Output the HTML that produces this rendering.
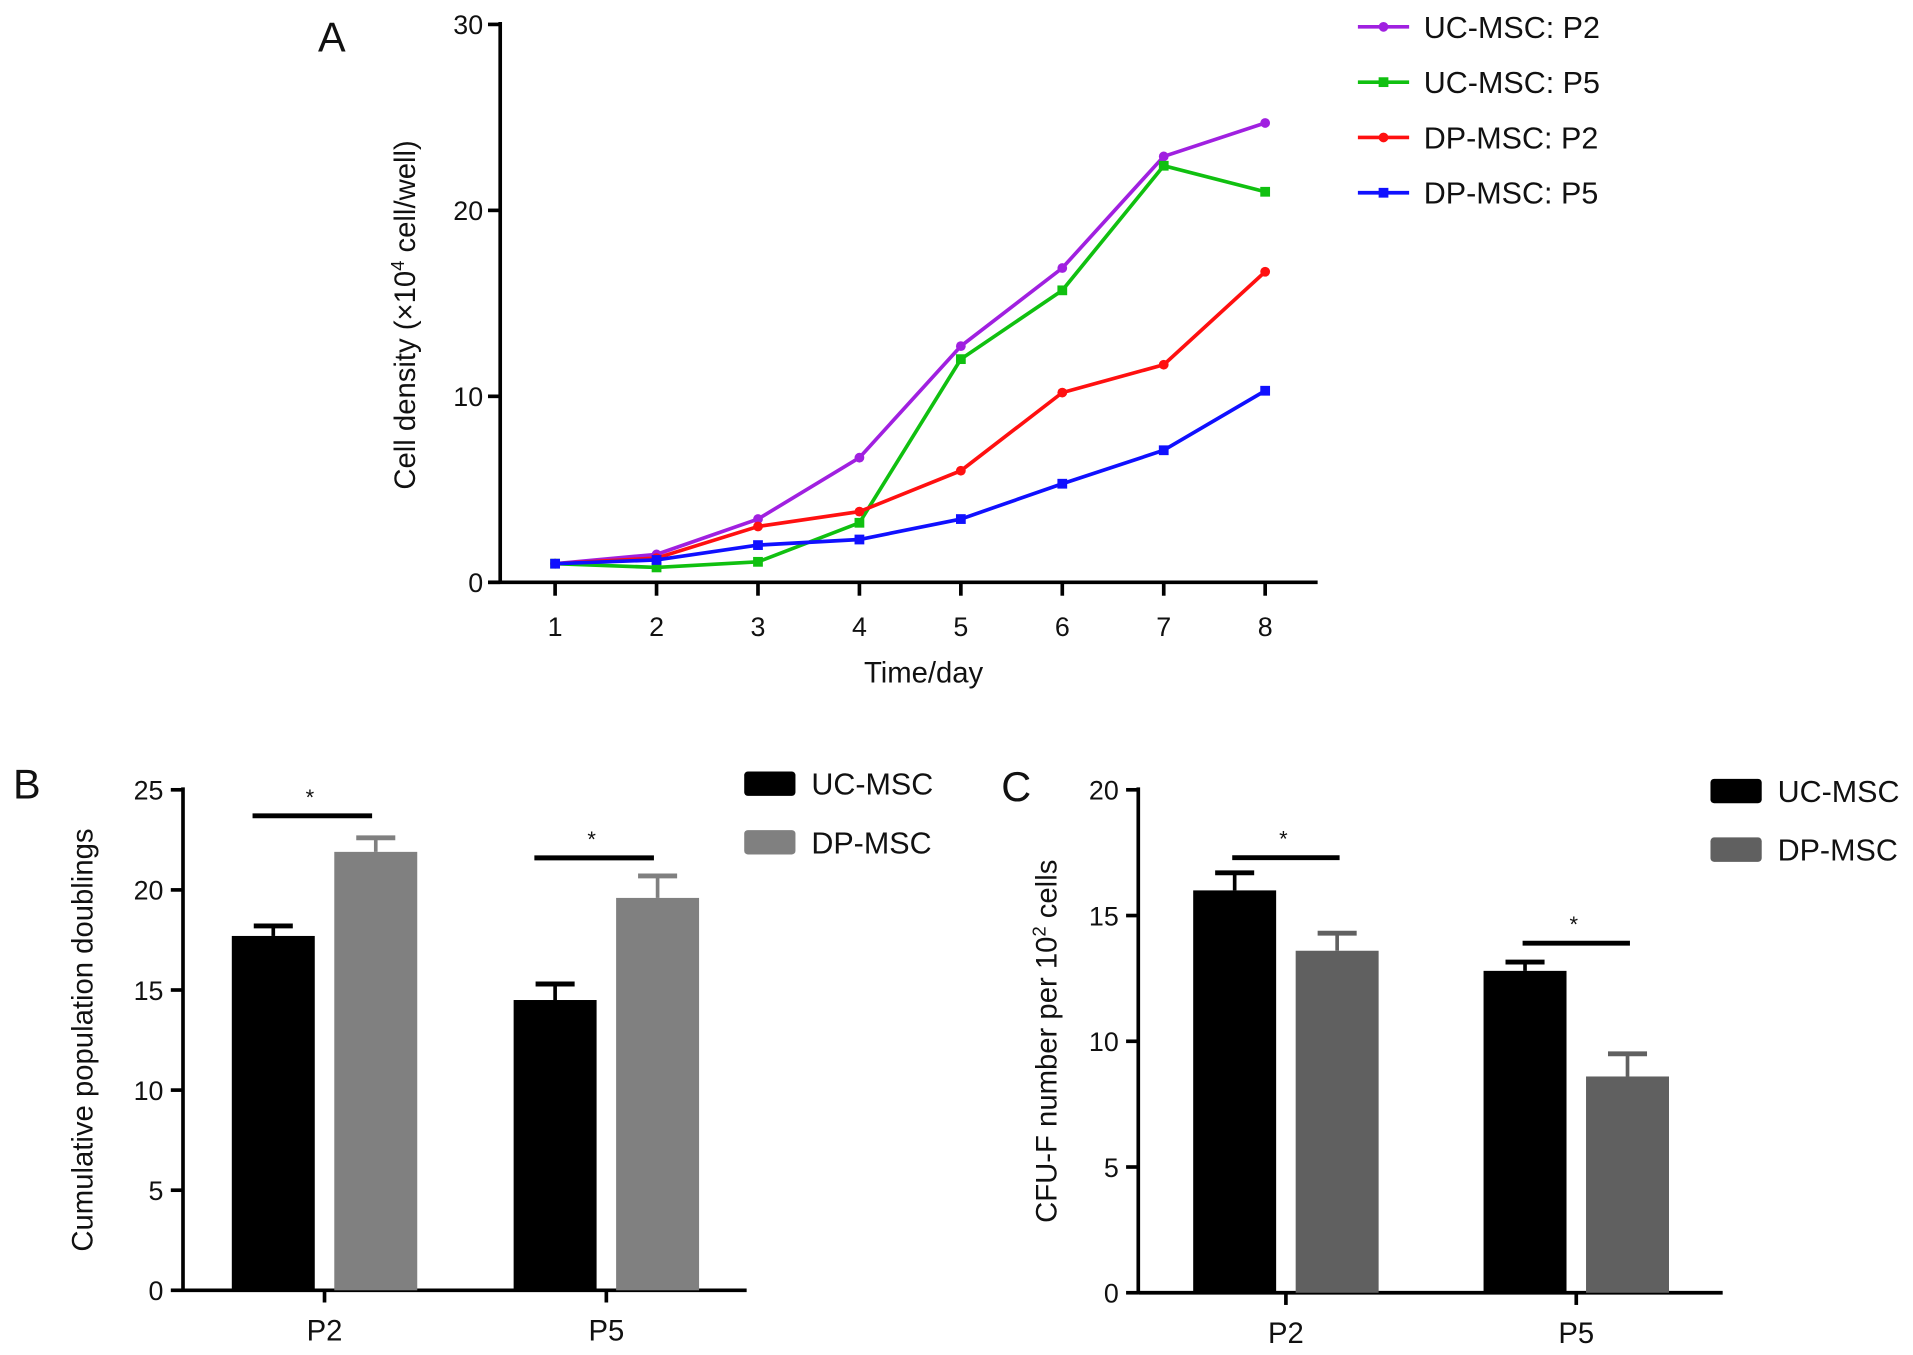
<!DOCTYPE html>
<html><head><meta charset="utf-8"><style>
html,body{margin:0;padding:0;background:#fff;}
svg{display:block;font-family:"Liberation Sans",Arial,sans-serif;}
</style></head><body>
<svg id="fig" width="1913" height="1355" viewBox="0 0 1568 1110" preserveAspectRatio="none"></svg>
<script>
// Panel A data
const days = [1,2,3,4,5,6,7,8];
const aTicks = [0,10,20,30];
const ucP2 = [1,1.5,3.4,6.7,12.7,16.9,22.9,24.7];
const ucP5 = [1,0.8,1.1,3.2,12.0,15.7,22.4,21.0];
const dpP2 = [1,1.3,3.0,3.8,6.0,10.2,11.7,16.7];
const dpP5 = [1,1.2,2.0,2.3,3.4,5.3,7.1,10.3];
const seriesNames = ["UC-MSC: P2","UC-MSC: P5","DP-MSC: P2","DP-MSC: P5"];
// Panel B data
const bCats = ["P2","P5"];
const bTicks = [0,5,10,15,20,25];
const bUC = [17.7,14.5];
const bUCerr = [0.5,0.8];
const bDP = [21.9,19.6];
const bDPerr = [0.7,1.1];
const bSig = [23.7,21.6];
// Panel C data
const cCats = ["P2","P5"];
const cTicks = [0,5,10,15,20];
const cUC = [16.0,12.8];
const cUCerr = [0.7,0.35];
const cDP = [13.6,8.6];
const cDPerr = [0.7,0.9];
const cSig = [17.3,13.9];

const NS="http://www.w3.org/2000/svg";
const svg=document.getElementById('fig');
function mk(tag,attrs,parent){const e=document.createElementNS(NS,tag);for(const k in attrs)e.setAttribute(k,attrs[k]);(parent||svg).appendChild(e);return e;}
function txt(x,y,s,size,anchor,name,extra){const t=mk('text',Object.assign({x:x,y:y,'font-size':size,'text-anchor':anchor||'middle',fill:'#111'},extra||{}));t.textContent=s;return t;}

// ---------- Panel A ----------
const ax=x=>455+(x-1)*(1037-455)/7;
const ay=v=>477-v*(477-20)/30;
txt(272,42,'A',34,'middle','panel-a-label');
let l=mk('line',{x1:410,y1:18,x2:410,y2:478,stroke:'#000','stroke-width':3});

l=mk('line',{x1:400,y1:477,x2:1080,y2:477,stroke:'#000','stroke-width':3});

aTicks.forEach(v=>{mk('line',{x1:400,y1:ay(v),x2:410,y2:ay(v),stroke:'#000','stroke-width':3});txt(396,ay(v)+8,String(v),22,'end','a-y-tick-label');});
days.forEach(d=>{mk('line',{x1:ax(d),y1:477,x2:ax(d),y2:488,stroke:'#000','stroke-width':3});txt(ax(d),521,String(d),22,'middle','a-x-tick-label');});
txt(757,559,'Time/day',24,'middle','a-x-axis-title');
const yt=mk('text',{x:0,y:0,'font-size':24,'text-anchor':'middle',fill:'#111',transform:'translate(340,258) rotate(-90)'});
yt.innerHTML='Cell density (×10<tspan dy="-9" font-size="15">4</tspan><tspan dy="9"> cell/well)</tspan>';

const aData=[ucP2,ucP5,dpP2,dpP5];
const aColors=['#a020e0','#10c010','#ff1010','#1010ff'];
const aSquare=[false,true,false,true];
aData.forEach((arr,i)=>{
  const g=mk('g',{});
  mk('polyline',{points:arr.map((v,j)=>ax(days[j])+','+ay(v)).join(' '),fill:'none',stroke:aColors[i],'stroke-width':3},g);
  arr.forEach((v,j)=>{
    let m;
    if(aSquare[i]) m=mk('rect',{x:ax(days[j])-4,y:ay(v)-4,width:8,height:8,fill:aColors[i]},g);
    else m=mk('circle',{cx:ax(days[j]),cy:ay(v),r:4,fill:aColors[i]},g);
    
  });
  const ly=22+i*45.3;
  const lg=mk('g',{},svg);
  mk('line',{x1:1113,y1:ly,x2:1155,y2:ly,stroke:aColors[i],'stroke-width':3},lg);
  if(aSquare[i]) mk('rect',{x:1130,y:ly-4,width:8,height:8,fill:aColors[i]},lg); else mk('circle',{cx:1134,cy:ly,r:4,fill:aColors[i]},lg);
  txt(1167,ly+9,seriesNames[i],25,'start','legend-label');
});

// ---------- Bar panels ----------
function barPanel(o){
  const y=v=>o.y0-v*(o.y0-o.yTop)/o.max;
  txt(o.labelX,o.labelY,o.label,34,'middle','panel-'+o.label.toLowerCase()+'-label');
  let a=mk('line',{x1:o.ax,y1:o.yTop-2,x2:o.ax,y2:o.y0+1,stroke:'#000','stroke-width':3});
  a=mk('line',{x1:o.ax,y1:o.y0,x2:o.axEnd,y2:o.y0,stroke:'#000','stroke-width':3});
  o.ticks.forEach(v=>{mk('line',{x1:o.ax-10,y1:y(v),x2:o.ax,y2:y(v),stroke:'#000','stroke-width':3});txt(o.ax-16,y(v)+8,String(v),22,'end',o.id+'-y-tick-label');});
  o.cats.forEach((c,i)=>{
    const cx=o.centers[i];
    mk('line',{x1:cx,y1:o.y0,x2:cx,y2:o.y0+10,stroke:'#000','stroke-width':3});
    txt(cx,o.y0+41,c,24,'middle',o.id+'-x-tick-label');
    [[o.uc,o.ucErr,'#000',-1],[o.dp,o.dpErr,o.dpColor,1]].forEach(([vals,errs,col,side],k)=>{
      const bx=side<0?cx-76:cx+8;
      const r=mk('rect',{x:bx,y:y(vals[i]),width:68,height:o.y0-y(vals[i]),fill:col});
      
      const mx=bx+34,ty=y(vals[i]+errs[i]);
      mk('line',{x1:mx,y1:y(vals[i]),x2:mx,y2:ty,stroke:col,'stroke-width':3});
      mk('line',{x1:mx-16,y1:ty,x2:mx+16,y2:ty,stroke:col,'stroke-width':4});
    });
    const sy=y(o.sig[i]);
    const sc=cx+o.sigShift;
    const s=mk('line',{x1:sc-o.sigW/2,y1:sy,x2:sc+o.sigW/2,y2:sy,stroke:'#000','stroke-width':4});
    
    txt(sc-2,sy-9,'*',18,'middle','significance-star');
  });
  const yt=mk('text',{x:0,y:0,'font-size':24,'text-anchor':'middle',fill:'#111',transform:'translate('+o.titleX+','+((o.y0+o.yTop)/2)+') rotate(-90)'});
  yt.innerHTML=o.title;
  [['UC-MSC','#000'],['DP-MSC',o.dpColor]].forEach(([n,c],i)=>{
    const g=mk('g',{});
    mk('rect',{x:o.legX,y:o.legY+i*48-10,width:42,height:20,rx:3,fill:c},g);
    txt(o.legX+55,o.legY+i*48+9,n,25,'start','legend-label');
  });
}
barPanel({id:'b',label:'B',labelX:22,labelY:654,ax:150,axEnd:612,y0:1057,yTop:647,max:25,ticks:bTicks,cats:bCats,centers:[266,497],
  uc:bUC,ucErr:bUCerr,dp:bDP,dpErr:bDPerr,dpColor:'#808080',sig:bSig,sigW:98,sigShift:-10,titleX:76,
  title:'Cumulative population doublings',legX:610,legY:642});
barPanel({id:'c',label:'C',labelX:833,labelY:656,ax:933,axEnd:1412,y0:1059,yTop:647,max:20,ticks:cTicks,cats:cCats,centers:[1054,1292],
  uc:cUC,ucErr:cUCerr,dp:cDP,dpErr:cDPerr,dpColor:'#606060',sig:cSig,sigW:88,sigShift:0,titleX:866,
  title:'CFU-F number per 10<tspan dy="-9" font-size="15">2</tspan><tspan dy="9"> cells</tspan>',legX:1402,legY:648});
</script>
</body></html>
